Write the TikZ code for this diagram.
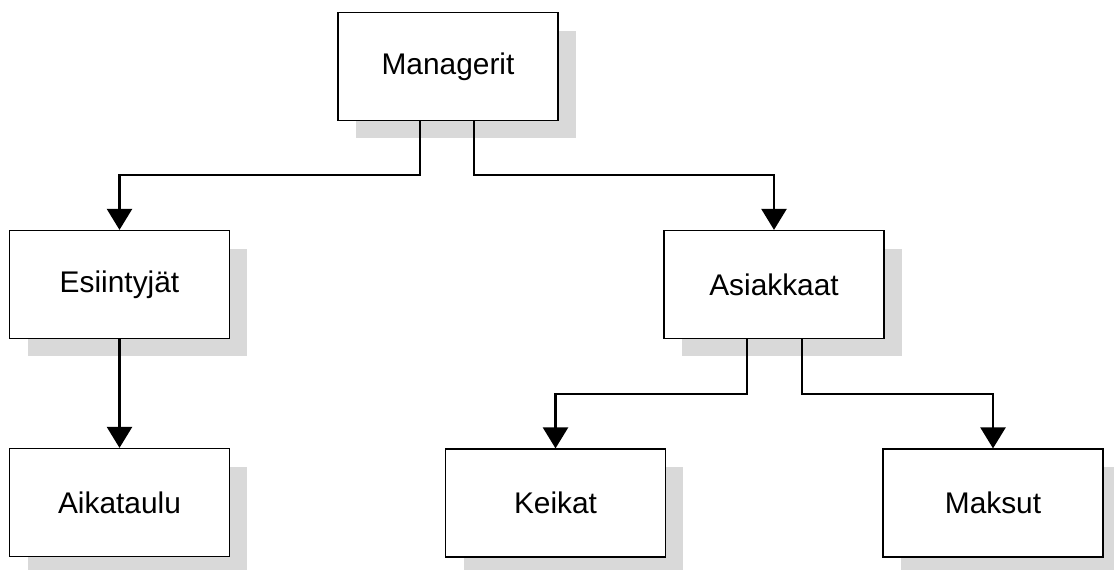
\documentclass[tikz,border=0pt]{standalone}
\usepackage{fontspec}
\setmainfont{Liberation Sans}
\usetikzlibrary{arrows.meta,shadows}

\begin{document}
\begin{tikzpicture}[x=0.02cm,y=-0.02cm,
  box/.style={draw,line width=0.7pt,fill=white,minimum width=4.4cm,minimum height=2.16cm,
    font=\fontsize{17}{20}\selectfont,
    drop shadow={shadow xshift=0.36cm,shadow yshift=-0.36cm,fill=black!15,opacity=1}},
  link/.style={line width=1.4pt,-{Triangle[length=0.42cm,width=0.5cm]}}]
  \useasboundingbox (0,0) rectangle (1114,570);
  \node[box] (man) at (448,66.5) {Managerit};
    \node[box] (esi) at (119.5,284.5) {Esiintyjät};
    \node[box] (asi) at (774,284.5) {Asiakkaat};
    \node[box] (aik) at (119.5,502.5) {Aikataulu};
    \node[box] (kei) at (555.5,503) {Keikat};
    \node[box] (mak) at (993,503) {Maksut};
  \draw[link] ([xshift=-0.56cm]man.south) -- ++(0,54) -| (esi.north);
  \draw[link] ([xshift=0.52cm]man.south) -- ++(0,54) -| (asi.north);
  \draw[link] (esi.south) -- (aik.north);
  \draw[link] ([xshift=-0.54cm]asi.south) -- ++(0,55) -| (kei.north);
  \draw[link] ([xshift=0.56cm]asi.south) -- ++(0,55) -| (mak.north);
\end{tikzpicture}
\end{document}
